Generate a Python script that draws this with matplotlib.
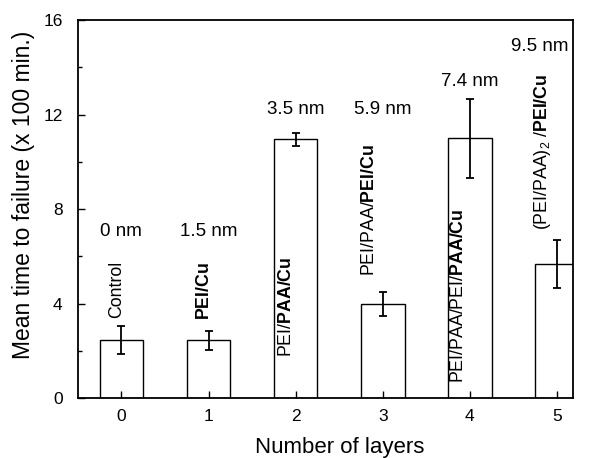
import numpy as np
import matplotlib
matplotlib.use("Agg")
import matplotlib.pyplot as plt
from matplotlib.ticker import MultipleLocator

plt.rcParams['font.family'] = ['Liberation Sans', 'DejaVu Sans']
plt.rcParams['mathtext.fontset'] = 'custom'
plt.rcParams['mathtext.rm'] = 'Liberation Sans'
plt.rcParams['mathtext.bf'] = 'Liberation Sans:bold'
plt.rcParams['mathtext.default'] = 'regular'

# data
layers = [0, 1, 2, 3, 4, 5]
mttf = [2.45, 2.45, 10.95, 3.98, 11.0, 5.67]
mttf_err = [0.6, 0.4, 0.28, 0.5, 1.68, 1.0]
thickness = ['0 nm', '1.5 nm', '3.5 nm', '5.9 nm', '7.4 nm', '9.5 nm']
samples = ['Control',
           r'$\mathbf{PEI/Cu}$',
           r'PEI/$\mathbf{PAA/Cu}$',
           r'PEI/PAA/$\mathbf{PEI/Cu}$',
           r'PEI/PAA/PEI/$\mathbf{PAA/Cu}$',
           r'(PEI/PAA)$_2$ /$\mathbf{PEI/Cu}$']

# label positions (x, y) in data units
thick_pos = [(0, 7.05), (1, 7.05), (2, 12.2), (3, 12.2), (4, 13.4), (4.8, 14.9)]
sample_pos = [(-0.05, 3.4), (0.95, 3.3), (1.9, 1.75), (2.85, 5.15), (3.87, 0.65), (4.83, 7.1)]

fig = plt.figure(figsize=(6.08, 4.58), dpi=100)
ax = fig.add_axes([0.128, 0.131, 0.814, 0.825])

ax.bar(layers, mttf, width=0.5, color='white', edgecolor='black', linewidth=1.0)
ax.errorbar(layers, mttf, yerr=mttf_err, fmt='none', ecolor='black',
            elinewidth=1.3, capsize=3, capthick=1.3)

for (x, y), t in zip(thick_pos, thickness):
    ax.text(x, y, t, ha='center', va='center', fontsize=13.5)
for (x, y), s in zip(sample_pos, samples):
    ax.text(x, y, s, ha='center', va='bottom', rotation=90, fontsize=12.8)

ax.set_xlim(-0.5, 5.18)
ax.set_ylim(0, 16)
ax.set_xticks(layers)
ax.yaxis.set_major_locator(MultipleLocator(4))
ax.yaxis.set_minor_locator(MultipleLocator(2))
ax.tick_params(axis='both', which='both', direction='in', labelsize=12.5)
ax.tick_params(axis='both', which='major', length=5, width=1)
ax.tick_params(axis='y', which='minor', length=3, width=1)
ax.tick_params(axis='y', which='major', pad=11)
ax.tick_params(axis='x', which='major', pad=8)
for sp in ax.spines.values():
    sp.set_linewidth(1.3)

ax.set_xlabel('Number of layers', fontsize=16)
ax.set_ylabel('Mean time to failure (x 100 min.)', fontsize=16.5)
ax.xaxis.set_label_coords(0.53, -0.102)
ax.yaxis.set_label_coords(-0.087, 0.537)

fig.savefig('out.png', dpi=100)
